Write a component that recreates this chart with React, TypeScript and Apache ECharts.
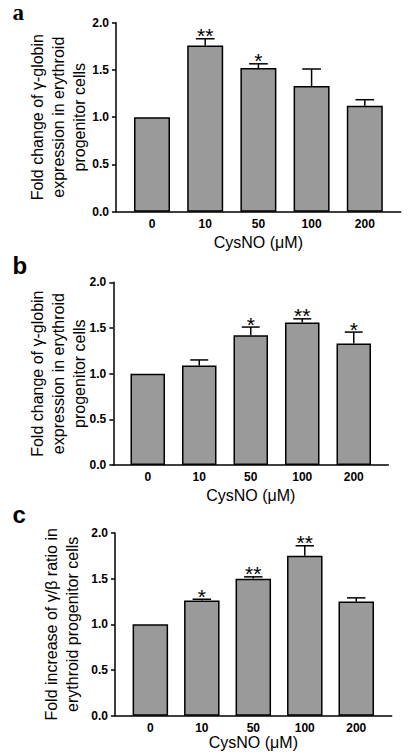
import React, { useEffect, useRef } from "react";
import * as echarts from "echarts";

// ---- data ----
const CATEGORIES = ["0", "10", "50", "100", "200"];
const X_NAME = "CysNO (μM)";

const MEANS_A = [1.0, 1.76, 1.52, 1.33, 1.12];
const ERRS_A = [0, 0.07, 0.045, 0.18, 0.065];
const STARS_A = ["", "**", "*", "", ""];
const Y_NAME_A = "Fold change of γ-globin\nexpression in erythroid\nprogenitor cells";

const MEANS_B = [1.0, 1.09, 1.42, 1.56, 1.33];
const ERRS_B = [0, 0.06, 0.09, 0.04, 0.125];
const STARS_B = ["", "", "*", "**", "*"];
const Y_NAME_B = "Fold change of γ-globin\nexpression in erythroid\nprogenitor cells";

const MEANS_C = [1.0, 1.26, 1.5, 1.75, 1.25];
const ERRS_C = [0, 0.015, 0.02, 0.11, 0.04];
const STARS_C = ["", "*", "**", "**", ""];
const Y_NAME_C = "Fold increase of γ/β ratio in\nerythroid progenitor cells";

const Y_MIN = 0;
const Y_MAX = 2;
const Y_INTERVAL = 0.5;

const FONT = "'Liberation Sans', Arial, Helvetica, sans-serif";

// ---- layout (positions only) ----
const PANELS = [
  {
    means: MEANS_A, errs: ERRS_A, stars: STARS_A, yName: Y_NAME_A,
    axis: { left: 116, right: 400.7, top: 22.7, bottom: 211.7 },
    bars: { left: 125.4, right: 391.4 }, barWidth: 36,
    yNameGap: 26, xNameGap: 23, label: "a",
    labelPos: { x: 12.5, y: 2 }, labelLH: 20,
    labelFont: "bold 23px 'Liberation Serif', 'DejaVu Serif', serif",
  },
  {
    means: MEANS_B, errs: ERRS_B, stars: STARS_B, yName: Y_NAME_B,
    axis: { left: 113.3, right: 388.3, top: 282.3, bottom: 465 },
    bars: { left: 122, right: 379.5 }, barWidth: 34.5,
    yNameGap: 23, xNameGap: 22, label: "b",
    labelPos: { x: 12.5, y: 253 }, labelLH: 24,
    labelFont: "bold 24px 'Liberation Sans', Arial, sans-serif",
  },
  {
    means: MEANS_C, errs: ERRS_C, stars: STARS_C, yName: Y_NAME_C,
    axis: { left: 115, right: 391.7, top: 533, bottom: 715.7 },
    bars: { left: 124.6, right: 382 }, barWidth: 35.5,
    yNameGap: 32, xNameGap: 19, label: "c",
    labelPos: { x: 12.5, y: 502 }, labelLH: 24,
    labelFont: "bold 24px 'Liberation Sans', Arial, sans-serif",
  },
];

function buildOption() {
  const grid: any[] = [];
  const xAxis: any[] = [];
  const yAxis: any[] = [];
  const series: any[] = [];
  const graphic: any[] = [];
  const black = "#000";

  PANELS.forEach((p, i) => {
    const gA = 2 * i;
    const gB = 2 * i + 1;
    const h = p.axis.bottom - p.axis.top;
    grid.push({ left: p.axis.left, top: p.axis.top, width: p.axis.right - p.axis.left, height: h });
    grid.push({ left: p.bars.left, top: p.axis.top, width: p.bars.right - p.bars.left, height: h });

    xAxis.push({
      gridIndex: gA, type: "value", min: 0, max: 1,
      axisLine: { show: true, onZero: false, lineStyle: { color: black, width: 1.5 } },
      axisTick: { show: false }, axisLabel: { show: false }, splitLine: { show: false },
      name: X_NAME, nameLocation: "middle", nameGap: p.xNameGap, nameMoveOverlap: false,
      nameTextStyle: { fontSize: 16, color: black, fontFamily: FONT },
    });
    yAxis.push({
      gridIndex: gA, type: "value", min: Y_MIN, max: Y_MAX, interval: Y_INTERVAL,
      axisLine: { show: true, onZero: false, lineStyle: { color: black, width: 1.5 } },
      axisTick: { show: true, length: 4, lineStyle: { color: black, width: 1.5 } },
      axisLabel: {
        fontWeight: "bold", fontSize: 12, color: black, fontFamily: FONT, margin: 7,
        formatter: (v: number) => v.toFixed(1),
      },
      splitLine: { show: false },
      name: p.yName, nameLocation: "middle", nameRotate: 90, nameGap: p.yNameGap,
      nameMoveOverlap: false,
      nameTextStyle: { fontSize: 16, lineHeight: 21, color: black, fontFamily: FONT },
    });
    xAxis.push({
      gridIndex: gB, type: "category", data: CATEGORIES,
      axisLine: { show: false }, axisTick: { show: false },
      axisLabel: { fontWeight: "bold", fontSize: 12, color: black, fontFamily: FONT, margin: 6 },
    });
    yAxis.push({ gridIndex: gB, type: "value", min: Y_MIN, max: Y_MAX, show: false });

    series.push({
      type: "bar", xAxisIndex: gB, yAxisIndex: gB, data: p.means, barWidth: p.barWidth,
      itemStyle: { color: "#9a9a9a", borderColor: black, borderWidth: 1.5 },
      z: 2,
    });
    const stars = p.stars;
    series.push({
      type: "custom", xAxisIndex: gB, yAxisIndex: gB, z: 3,
      data: p.means.map((m, k) => [k, m, p.errs[k]]),
      encode: { x: 0, y: 1 },
      renderItem: (params: any, api: any) => {
        const x = api.value(0);
        const v = api.value(1);
        const e = api.value(2);
        const top = api.coord([x, v]);
        const cap = api.coord([x, v + e]);
        const half = p.barWidth * 0.26;
        const children: any[] = [];
        if (e > 0) {
          children.push({
            type: "line", shape: { x1: top[0], y1: top[1], x2: cap[0], y2: cap[1] },
            style: { stroke: black, lineWidth: 1.5 },
          });
          children.push({
            type: "line", shape: { x1: cap[0] - half, y1: cap[1], x2: cap[0] + half, y2: cap[1] },
            style: { stroke: black, lineWidth: 1.5 },
          });
        }
        const s = stars[params.dataIndex];
        if (s) {
          children.push({
            type: "text",
            style: {
              text: s, x: cap[0], y: cap[1] - 3, align: "center", verticalAlign: "middle",
              fontSize: 21, fontFamily: FONT, fill: black,
            },
          });
        }
        return { type: "group", children };
      },
    });

    graphic.push({
      type: "text",
      x: p.labelPos.x, y: p.labelPos.y,
      style: {
        text: p.label, font: p.labelFont, fill: black, verticalAlign: "top", align: "left",
        lineHeight: p.labelLH,
      },
    });
  });

  return { animation: false, backgroundColor: "#fff", grid, xAxis, yAxis, series, graphic };
}

export default function App() {
  const ref = useRef<HTMLDivElement>(null);
  useEffect(() => {
    if (!ref.current) return;
    const chart = echarts.init(ref.current, null, { renderer: "svg" });
    chart.setOption(buildOption());
    return () => chart.dispose();
  }, []);
  return (
    <div
      ref={ref}
      style={{ position: "absolute", left: 0, top: 0, width: 413, height: 755, background: "#fff" }}
    />
  );
}
